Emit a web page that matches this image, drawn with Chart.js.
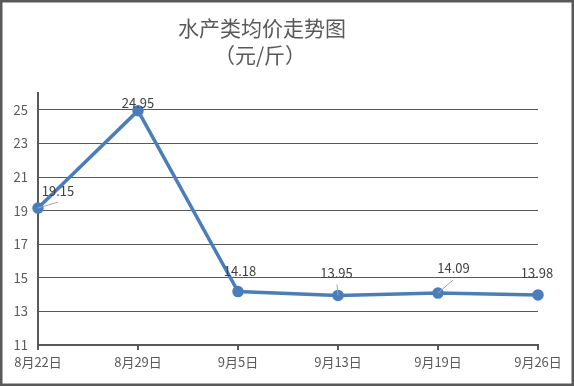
<!DOCTYPE html>
<html>
<head>
<meta charset="utf-8">
<script src="https://cdn.jsdelivr.net/npm/chart.js@4.4.1/dist/chart.umd.min.js"></script>
<style>
  html, body { margin: 0; padding: 0; background: #fff; }
  #wrap { position: relative; width: 574px; height: 386px; }
  canvas { display: block; }
</style>
</head>
<body>
<div id="wrap"><canvas id="c" width="574" height="386"></canvas></div>
<script>
const categories = ['8月22日', '8月29日', '9月5日', '9月13日', '9月19日', '9月26日'];
const prices = [19.15, 24.95, 14.18, 13.95, 14.09, 13.98];
const yTickValues = [11, 13, 15, 17, 19, 21, 23, 25];
const titleLines = ['水产类均价走势图', '（元/斤）'];

const FONT = '"Noto Sans CJK SC", "Noto Sans", sans-serif';

// label placement style (offsets relative to each point) and leader lines
const labelStyle = [
  { dx: 20, dy: -17, leader: true, lx: 20, ly: -6 },
  { dx: 0, dy: -8, leader: false },
  { dx: 2, dy: -21, leader: false },
  { dx: -1.5, dy: -22, leader: true, lx: -1, ly: -11 },
  { dx: 15.5, dy: -25, leader: true, lx: 15, ly: -13 },
  { dx: -1, dy: -22, leader: false }
];

const framePlugin = {
  id: 'frame',
  afterDraw(chart) {
    const ctx = chart.ctx;
    ctx.save();
    ctx.strokeStyle = '#595959';
    ctx.lineWidth = 2.5;
    ctx.strokeRect(1.25, 1.25, chart.width - 2.5, chart.height - 2.5);
    ctx.fillStyle = '#595959';
    ctx.textAlign = 'center';
    ctx.textBaseline = 'middle';
    ctx.font = '21px ' + FONT;
    ctx.fillText(titleLines[0], 262, 28);
    ctx.fillText(titleLines[1], 260, 55);
    ctx.restore();
  }
};

const labelPlugin = {
  id: 'vlabels',
  afterDatasetsDraw(chart) {
    const ctx = chart.ctx;
    const meta = chart.getDatasetMeta(0);
    ctx.save();
    meta.data.forEach((pt, i) => {
      const s = labelStyle[i];
      if (s.leader) {
        ctx.strokeStyle = '#a6a6a6';
        ctx.lineWidth = 1;
        ctx.beginPath();
        ctx.moveTo(pt.x, pt.y);
        ctx.lineTo(pt.x + s.lx, pt.y + s.ly);
        ctx.stroke();
      }
    });
    ctx.fillStyle = '#404040';
    ctx.font = '13px ' + FONT;
    ctx.textAlign = 'center';
    ctx.textBaseline = 'middle';
    meta.data.forEach((pt, i) => {
      const s = labelStyle[i];
      ctx.fillText(prices[i].toFixed(2), pt.x + s.dx, pt.y + s.dy);
    });
    ctx.restore();
  }
};

new Chart(document.getElementById('c'), {
  type: 'line',
  data: {
    labels: categories,
    datasets: [{
      data: prices,
      borderColor: '#4a7ebb',
      backgroundColor: '#4a7ebb',
      borderWidth: 3.5,
      pointRadius: 4,
      pointBackgroundColor: '#4a7ebb',
      pointBorderColor: '#4a7ebb',
      tension: 0,
      fill: false
    }]
  },
  options: {
    responsive: false,
    animation: false,
    devicePixelRatio: 1,
    layout: { padding: { top: 93, left: 0, right: 36, bottom: 0 } },
    plugins: {
      legend: { display: false },
      tooltip: { enabled: false },
      title: { display: false }
    },
    scales: {
      x: {
        offset: false,
        afterFit(scale) { scale.height = 41; },
        grid: {
          drawOnChartArea: false,
          drawTicks: true,
          tickLength: 5,
          color: '#595959',
          lineWidth: 2
        },
        border: { display: true, color: '#595959', width: 2 },
        ticks: {
          color: '#595959',
          font: { family: FONT, size: 13 },
          padding: 4,
          maxRotation: 0,
          autoSkip: false
        }
      },
      y: {
        min: 11,
        max: 26,
        afterFit(scale) { scale.width = 38; },
        afterBuildTicks(scale) {
          scale.ticks = yTickValues.map(v => ({ value: v }));
        },
        grid: {
          drawTicks: false,
          color: '#595959',
          lineWidth: 1
        },
        border: { display: true, color: '#595959', width: 2 },
        ticks: {
          color: '#595959',
          font: { family: FONT, size: 13 },
          padding: 10
        }
      }
    }
  },
  plugins: [framePlugin, labelPlugin]
});
</script>
</body>
</html>
